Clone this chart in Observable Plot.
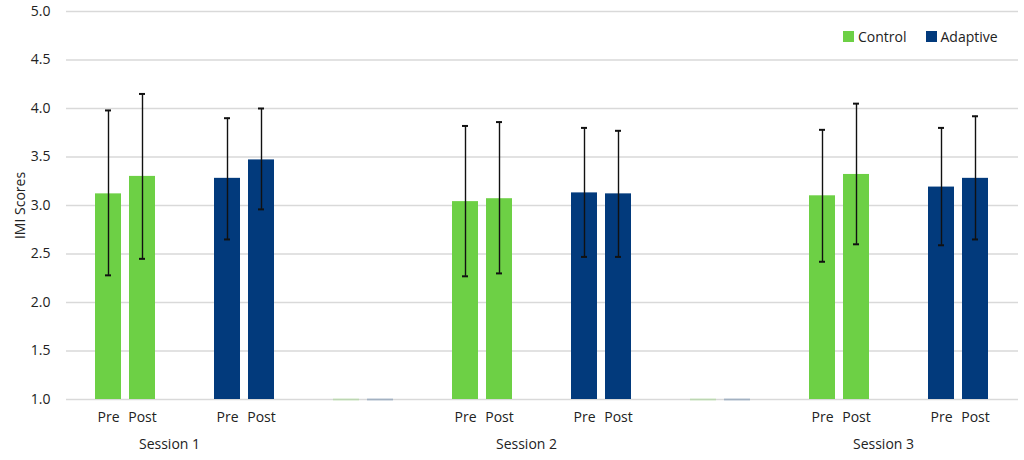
<!DOCTYPE html>
<html>
<head>
<meta charset="utf-8">
<script src="https://cdn.jsdelivr.net/npm/d3@7"></script>
<script src="https://cdn.jsdelivr.net/npm/@observablehq/plot@0.6"></script>
<style>
  html, body { margin: 0; padding: 0; background: #fff; }
  #chart { position: relative; width: 1024px; height: 460px; font-family: "Open Sans", sans-serif; }
  .legend { position: absolute; top: 27px; left: 843px; display: flex; align-items: center; font-size: 14px; color: #222; }
  .legend .sw { display: inline-block; width: 11px; height: 11px; margin-right: 4px; }
  .legend .item { display: flex; align-items: center; margin-right: 19px; }
</style>
</head>
<body>
<div id="chart"></div>
<script>
// ---- data ----
const sessions = ["Session 1", "Session 2", "Session 3"];
const groups = ["Control", "Adaptive"];
const phases = ["Pre", "Post"];
// values ordered: S1 Pre, S1 Post, S2 Pre, S2 Post, S3 Pre, S3 Post
const controlMean = [3.12, 3.30, 3.04, 3.07, 3.10, 3.32];
const controlHigh = [3.98, 4.15, 3.82, 3.86, 3.78, 4.05];
const controlLow  = [2.28, 2.45, 2.27, 2.30, 2.42, 2.60];
const adaptiveMean = [3.28, 3.47, 3.13, 3.12, 3.19, 3.28];
const adaptiveHigh = [3.90, 4.00, 3.80, 3.77, 3.80, 3.92];
const adaptiveLow  = [2.65, 2.96, 2.47, 2.47, 2.59, 2.65];
const yTicks = [1.0, 1.5, 2.0, 2.5, 3.0, 3.5, 4.0, 4.5, 5.0];
const yMin = 1, yMax = 5;
const colors = {Control: "#6dd045", Adaptive: "#023a7c"};

// ---- table ----
const series = {
  Control: {mean: controlMean, hi: controlHigh, lo: controlLow},
  Adaptive: {mean: adaptiveMean, hi: adaptiveHigh, lo: adaptiveLow}
};
const rows = [];
sessions.forEach((s, si) => {
  groups.forEach(g => {
    phases.forEach((p, pi) => {
      const k = si * 2 + pi;
      rows.push({slot: `${s}|${g}`, session: s, group: g, phase: p,
                 mean: series[g].mean[k], hi: series[g].hi[k], lo: series[g].lo[k]});
    });
  });
});
const slots = [];
sessions.forEach((s, si) => {
  groups.forEach(g => slots.push(`${s}|${g}`));
  if (si < sessions.length - 1) slots.push(`gap${si + 1}`);
});
const gapRows = [];
slots.filter(d => d.startsWith("gap")).forEach(slot => {
  phases.forEach((p, i) => gapRows.push({slot, phase: p, group: groups[i], v: yMin}));
});
const labelRows = sessions.map(s => ({slot: `${s}|Control`, session: s}));

// ---- chart ----
const plot = Plot.plot({
  width: 1024,
  height: 460,
  marginTop: 11,
  marginBottom: 61,
  marginLeft: 63,
  marginRight: 4,
  style: {fontFamily: "Open Sans, sans-serif", fontSize: "14px", color: "#222", background: "#fff"},
  fx: {domain: slots, padding: 0, axis: null, label: null},
  x: {domain: phases, paddingInner: 0.23, paddingOuter: 0.82, axis: null},
  y: {domain: [yMin, yMax], ticks: yTicks, tickFormat: d3.format(".1f"), tickSize: 0, tickPadding: 16,
      label: "IMI Scores", labelAnchor: "center", labelArrow: "none", labelOffset: 51},
  color: {domain: groups, range: groups.map(g => colors[g])},
  marks: [
    Plot.gridY(yTicks, {stroke: "#d9d9d9", strokeOpacity: 1, strokeWidth: 1.3}),
    Plot.tickY(gapRows, {fx: "slot", x: "phase", y: "v", stroke: "group", strokeOpacity: 0.25, strokeWidth: 2}),
    Plot.barY(rows, {fx: "slot", x: "phase", y1: yMin, y2: "mean", fill: "group"}),
    Plot.ruleX(rows, {fx: "slot", x: "phase", y1: "lo", y2: "hi", stroke: "#111", strokeWidth: 1.4}),
    Plot.tickY(rows, {fx: "slot", x: "phase", y: "hi", stroke: "#111", strokeWidth: 2, insetLeft: 10, insetRight: 10}),
    Plot.tickY(rows, {fx: "slot", x: "phase", y: "lo", stroke: "#111", strokeWidth: 2, insetLeft: 10, insetRight: 10}),
    Plot.text(rows, {fx: "slot", x: "phase", text: "phase", frameAnchor: "bottom", dy: 22, fill: "#222", fontSize: 14}),
    Plot.text(labelRows, {fx: "slot", text: "session", frameAnchor: "bottom-right", textAnchor: "middle", dy: 49, dx: -16, fill: "#222", fontSize: 14})
  ]
});
const chart = document.getElementById("chart");
chart.appendChild(plot);

const legend = document.createElement("div");
legend.className = "legend";
groups.forEach(g => {
  const it = document.createElement("div");
  it.className = "item";
  const sw = document.createElement("span");
  sw.className = "sw";
  sw.style.background = colors[g];
  it.appendChild(sw);
  it.appendChild(document.createTextNode(g));
  legend.appendChild(it);
});
chart.appendChild(legend);
</script>
</body>
</html>
